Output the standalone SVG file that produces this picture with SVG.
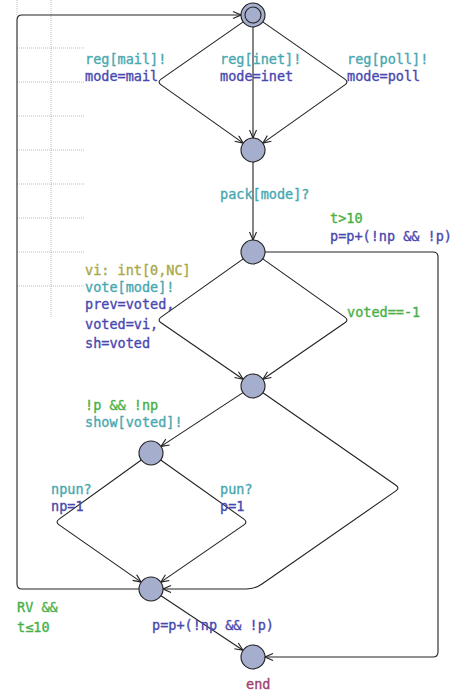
<svg xmlns="http://www.w3.org/2000/svg" width="460" height="694" viewBox="0 0 460 694">
<style>
.grid{stroke:#bbbbbb;stroke-width:1;stroke-dasharray:1,1;fill:none}
.e{fill:none;stroke:#222;stroke-width:1.1}
.n{fill:#a6aecd;stroke:#222;stroke-width:1.1}
text{font-family:"DejaVu Sans Mono","Liberation Mono",monospace;font-size:13.5px;stroke-width:0.35}
.sy{fill:#48a8b0;stroke:#48a8b0}
.as{fill:#4848b0;stroke:#4848b0}
.gu{fill:#48b048;stroke:#48b048}
.se{fill:#a8a848;stroke:#a8a848}
.nm{fill:#a04070;stroke:#a04070}
</style>
<defs>
<marker id="ar" markerWidth="10" markerHeight="10" refX="9" refY="4" orient="auto" markerUnits="userSpaceOnUse">
<path d="M1,0.5 L9,4 L1,7.5" fill="none" stroke="#222" stroke-width="1.1"/>
</marker>
</defs>
<g id="grid">
<path class="grid" d="M17,0 V15 M51,0 V318 M17,48 H85 M17,82 H85 M17,116 H85 M17,150 H85 M17,184 H85 M17,218 H85 M17,252 H85 M17,286 H85"/>
</g>
<g id="connectors">
<path class="e" marker-end="url(#ar)" d="M243.2,21.9 L161.1,79.1 Q157,82 161.1,84.9 L243.2,143.1"/>
<path class="e" marker-end="url(#ar)" d="M253,27 L253,138"/>
<path class="e" marker-end="url(#ar)" d="M262.8,21.9 L344.9,79.1 Q349,82 344.9,84.9 L262.8,143.1"/>
<path class="e" marker-end="url(#ar)" d="M253,162 L253,240"/>
<path class="e" marker-end="url(#ar)" d="M243.2,258.9 L161.1,317.1 Q157,320 161.1,322.8 L243.1,379.2"/>
<path class="e" marker-end="url(#ar)" d="M262.8,258.9 L344.9,317.1 Q349,320 344.9,322.8 L262.9,379.2"/>
<path class="e" marker-end="url(#ar)" d="M265,252 L433,252 Q438,252 438,257 L438,652 Q438,657 433,657 L265,657"/>
<path class="e" marker-end="url(#ar)" d="M243,392.6 L161,446.4"/>
<path class="e" marker-end="url(#ar)" d="M262.9,392.8 L395.9,485.2 Q400,488 395.9,490.9 L262,584 Q255,589 246,589 L163,589"/>
<path class="e" marker-end="url(#ar)" d="M141.3,460 L59.1,519.1 Q55,522 59.1,524.9 L141.2,582.1"/>
<path class="e" marker-end="url(#ar)" d="M160.7,460 L243.9,519.1 Q248,522 243.9,524.9 L160.8,582.1"/>
<path class="e" marker-end="url(#ar)" d="M139,589 L22,589 Q17,589 17,584 L17,20 Q17,15 22,15 L241,15"/>
<path class="e" marker-end="url(#ar)" d="M161,595.7 L243,650.3"/>
</g>
<g id="n0"><circle class="n" cx="253" cy="15" r="12"/><circle cx="253" cy="15" r="8" fill="none" stroke="#222" stroke-width="1.1"/></g>
<g id="n1"><circle class="n" cx="253" cy="150" r="12"/></g>
<g id="n2"><circle class="n" cx="253" cy="252" r="12"/></g>
<g id="n3"><circle class="n" cx="253" cy="386" r="12"/></g>
<g id="n4"><circle class="n" cx="151" cy="453" r="12"/></g>
<g id="n5"><circle class="n" cx="151" cy="589" r="12"/></g>
<g id="n6"><circle class="n" cx="253" cy="657" r="12"/><text class="nm" x="246" y="689">end</text></g>
<g id="labels">
<text class="sy" x="85" y="64">reg[mail]!</text>
<text class="as" x="85" y="81">mode=mail</text>
<text class="sy" x="220" y="64">reg[inet]!</text>
<text class="as" x="220" y="81">mode=inet</text>
<text class="sy" x="347" y="64">reg[poll]!</text>
<text class="as" x="347" y="81">mode=poll</text>
<text class="sy" x="220" y="199">pack[mode]?</text>
<text class="gu" x="330" y="223">t&gt;10</text>
<text class="as" x="330" y="241">p=p+(!np &amp;&amp; !p)</text>
<text class="se" x="85" y="275">vi: int[0,NC]</text>
<text class="sy" x="85" y="292">vote[mode]!</text>
<text class="as" x="85" y="309">prev=voted,</text>
<text class="as" x="85" y="329">voted=vi,</text>
<text class="as" x="85" y="348">sh=voted</text>
<text class="gu" x="347" y="317">voted==-1</text>
<text class="gu" x="85" y="410">!p &amp;&amp; !np</text>
<text class="sy" x="85" y="427">show[voted]!</text>
<text class="sy" x="51" y="494">npun?</text>
<text class="as" x="51" y="511">np=1</text>
<text class="sy" x="220" y="494">pun?</text>
<text class="as" x="220" y="511">p=1</text>
<text class="gu" x="17" y="612">RV &amp;&amp;</text>
<text class="gu" x="17" y="632">t≤10</text>
<text class="as" x="152" y="630">p=p+(!np &amp;&amp; !p)</text>
</g>
</svg>
